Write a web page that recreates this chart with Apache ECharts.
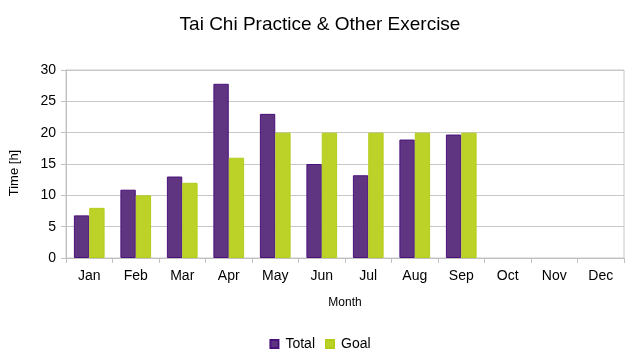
<!DOCTYPE html>
<html><head><meta charset="utf-8">
<script src="https://cdn.jsdelivr.net/npm/echarts@6/dist/echarts.min.js"></script>
<style>html,body{margin:0;padding:0;background:#fff}#c{width:640px;height:357px}</style>
</head><body><div id="c"></div>
<script>
const months = ['Jan','Feb','Mar','Apr','May','Jun','Jul','Aug','Sep','Oct','Nov','Dec'];
const total = [6.8, 10.9, 13.0, 27.8, 23.0, 15.0, 13.2, 18.9, 19.7, null, null, null];
const goal = [8, 10, 12, 16, 20, 20, 20, 20, 20, null, null, null];
const yTicks = [0, 5, 10, 15, 20, 25, 30];

const chart = echarts.init(document.getElementById('c'), null, {renderer:'canvas'});
const font = 'Liberation Sans, Arial, sans-serif';
chart.setOption({
  animation: false,
  textStyle: {fontFamily: font},
  title: {text: 'Tai Chi Practice & Other Exercise', left: 'center', top: 10,
    textStyle: {fontFamily: font, fontSize: 19, fontWeight: 'normal', color: '#000'}},
  grid: {left: 66, right: 16, top: 70, bottom: 99, show: true, borderColor: '#c8c8c8', borderWidth: 1},
  legend: {bottom: 1, left: 'center', itemWidth: 8, itemHeight: 8, itemGap: 10,
    icon: 'rect',
    textStyle: {fontFamily: font, fontSize: 14, color: '#000', padding: [0, 0, 0, 2]},
    data: ['Total', 'Goal']},
  xAxis: {type: 'category', data: months, name: 'Month', nameLocation: 'middle', nameGap: 39,
    nameTextStyle: {fontFamily: font, fontSize: 12, color: '#000'},
    axisLine: {lineStyle: {color: '#c0c0c0'}},
    axisTick: {show: true, length: 5, alignWithLabel: false, lineStyle: {color: '#c0c0c0'}},
    axisLabel: {fontFamily: font, fontSize: 14, color: '#000', margin: 11}},
  yAxis: {type: 'value', min: yTicks[0], max: yTicks[yTicks.length-1], interval: 5,
    name: 'Time [h]', nameLocation: 'middle', nameGap: 45, nameRotate: 90,
    nameTextStyle: {fontFamily: font, fontSize: 13, color: '#000', padding: [0, 18, 0, 0]},
    axisLine: {show: true, lineStyle: {color: '#c0c0c0'}},
    axisTick: {show: true, length: 5, lineStyle: {color: '#c0c0c0'}},
    splitLine: {lineStyle: {color: '#c8c8c8'}},
    axisLabel: {fontFamily: font, fontSize: 14, color: '#000', margin: 10}},
  series: [
    {name: 'Total', type: 'bar', data: total, barGap: '0%', barCategoryGap: '34%',
      itemStyle: {color: '#5f3582', borderColor: '#4a117c', borderWidth: 1}},
    {name: 'Goal', type: 'bar', data: goal,
      itemStyle: {color: '#bdd229', borderColor: '#b4cc1a', borderWidth: 1}}
  ]
});
</script></body></html>
